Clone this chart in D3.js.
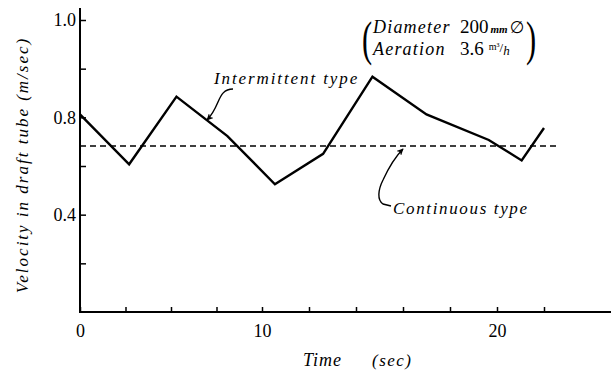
<!DOCTYPE html>
<html>
<head>
<meta charset="utf-8">
<script src="https://cdn.jsdelivr.net/npm/d3@7"></script>
<style>
  body { margin: 0; background: #fff; }
  svg text { font-family: 'Liberation Serif', 'Times New Roman', Times, serif; fill: #000; }
</style>
</head>
<body>
<div id="chart"></div>
<script>
// data
const timeSec = [0, 2.7, 5.3, 8.1, 10.55, 12.6, 14.7, 17.0, 19.65, 21.05, 22.0];
const intermittentVel = [0.812, 0.607, 0.885, 0.723, 0.525, 0.65, 0.967, 0.812, 0.707, 0.623, 0.756];
const continuousTime = [0, 22.55];
const continuousVel = [0.682, 0.682];

const xTickValues = [0, 2.5, 5, 7.5, 10, 12, 14, 16, 18, 20, 22];
const xTickLabels = { 0: '0', 10: '10', 20: '20' };
const yTickValues = [0.2, 0.4, 0.6, 0.8, 1.0, 1.2];
const yTickLabels = { 0.4: '0.4', 0.8: '0.8', 1.2: '1.0' };

const width = 611, height = 372;
const serif = "'Liberation Serif', 'Times New Roman', Times, serif";

// the printed time axis is not evenly spaced, so use a piecewise scale
const xScale = d3.scaleLinear().domain([0, 10, 20]).range([80, 262, 497]);
const yScale = d3.scaleLinear().domain([0, 1.2]).range([312, 20]);

const svg = d3.select('#chart')
  .append('svg')
  .attr('width', width)
  .attr('height', height)
  .attr('font-family', serif);

// arrow head marker
svg.append('defs').append('marker')
  .attr('id', 'arrow')
  .attr('viewBox', '0 0 10 10')
  .attr('refX', 9)
  .attr('refY', 5)
  .attr('markerWidth', 7)
  .attr('markerHeight', 7)
  .attr('markerUnits', 'userSpaceOnUse')
  .attr('orient', 'auto')
  .append('path')
  .attr('d', 'M0,0 L10,5 L0,10 L3,5 Z')
  .attr('fill', '#000');

// X-axis
const xAxis = svg.append('g')
  .attr('transform', `translate(0, ${yScale(0)})`)
  .call(d3.axisBottom(xScale)
    .tickValues(xTickValues)
    .tickSizeInner(-5)
    .tickSizeOuter(0)
    .tickPadding(12)
    .tickFormat(d => xTickLabels[d] || ''));
xAxis.attr('font-family', serif);
xAxis.select('.domain').remove();
xAxis.selectAll('.tick line').attr('stroke-width', 1.5);
xAxis.selectAll('.tick text')
  .attr('font-size', 18)
  .attr('fill', '#000');
svg.append('line')
  .attr('x1', xScale(0) - 1).attr('x2', width)
  .attr('y1', yScale(0)).attr('y2', yScale(0))
  .attr('stroke', '#000').attr('stroke-width', 2);

// Y-axis
const yAxis = svg.append('g')
  .attr('transform', `translate(${xScale(0)}, 0)`)
  .call(d3.axisLeft(yScale)
    .tickValues(yTickValues)
    .tickSizeInner(-6)
    .tickSizeOuter(0)
    .tickPadding(4)
    .tickFormat(d => yTickLabels[d] || ''));
yAxis.attr('font-family', serif);
yAxis.select('.domain').remove();
yAxis.selectAll('.tick line').attr('stroke-width', 1.5);
yAxis.selectAll('.tick text')
  .attr('font-size', 18)
  .attr('fill', '#000');
svg.append('line')
  .attr('x1', xScale(0)).attr('x2', xScale(0))
  .attr('y1', 8).attr('y2', yScale(0) + 1)
  .attr('stroke', '#000').attr('stroke-width', 2);

// Y-axis label
svg.append('text')
  .attr('transform', `translate(28, ${(40 + 290) / 2}) rotate(-90)`)
  .attr('text-anchor', 'middle')
  .attr('font-size', 17)
  .attr('font-style', 'italic')
  .attr('letter-spacing', 2)
  .text('Velocity in draft tube (m/sec)');

// X-axis label
svg.append('text')
  .attr('x', 303).attr('y', 366)
  .attr('font-size', 18)
  .attr('font-style', 'italic')
  .attr('letter-spacing', 1)
  .text('Time');
svg.append('text')
  .attr('x', 372).attr('y', 366)
  .attr('font-size', 17)
  .attr('font-style', 'italic')
  .attr('letter-spacing', 1.5)
  .text('(sec)');

// continuous type (dashed)
const line = d3.line()
  .x(d => xScale(d[0]))
  .y(d => yScale(d[1]));

svg.append('path')
  .datum(continuousTime.map((t, i) => [t, continuousVel[i]]))
  .attr('fill', 'none')
  .attr('stroke', '#000')
  .attr('stroke-width', 1.6)
  .attr('stroke-dasharray', '6,4')
  .attr('d', line);

// intermittent type (solid)
svg.append('path')
  .datum(timeSec.map((t, i) => [t, intermittentVel[i]]))
  .attr('fill', 'none')
  .attr('stroke', '#000')
  .attr('stroke-width', 2.4)
  .attr('stroke-linejoin', 'miter')
  .attr('d', line);

// labels with pointers
svg.append('text')
  .attr('x', 214).attr('y', 84)
  .attr('font-size', 17)
  .attr('font-style', 'italic')
  .attr('letter-spacing', 1.9)
  .text('Intermittent type');
svg.append('path')
  .attr('d', 'M233,89 C224,89 221,95 218,102 S213,114 207,120')
  .attr('fill', 'none')
  .attr('stroke', '#000')
  .attr('stroke-width', 1.4)
  .attr('marker-end', 'url(#arrow)');

svg.append('text')
  .attr('x', 393).attr('y', 214)
  .attr('font-size', 17)
  .attr('font-style', 'italic')
  .attr('letter-spacing', 1.65)
  .text('Continuous type');
svg.append('path')
  .attr('d', 'M391,206 L383,204 C377,200 378,190 383,180 C389,167 396,156 403,149')
  .attr('fill', 'none')
  .attr('stroke', '#000')
  .attr('stroke-width', 1.4)
  .attr('marker-end', 'url(#arrow)');

// condition note, top right
svg.append('text')
  .attr('transform', 'translate(362, 55) scale(0.8, 1.25)')
  .attr('font-size', 38)
  .text('(');
svg.append('text')
  .attr('transform', 'translate(526, 55) scale(0.8, 1.25)')
  .attr('font-size', 38)
  .text(')');

svg.append('text')
  .attr('x', 373).attr('y', 33)
  .attr('font-size', 18)
  .attr('font-style', 'italic')
  .attr('letter-spacing', 1.2)
  .text('Diameter');
svg.append('text')
  .attr('x', 373).attr('y', 55)
  .attr('font-size', 18)
  .attr('font-style', 'italic')
  .attr('letter-spacing', 1.2)
  .text('Aeration');

const dia = svg.append('text').attr('x', 460).attr('y', 33).attr('font-size', 19);
dia.append('tspan').text('200');
dia.append('tspan').attr('dx', 2).attr('font-size', 11).attr('font-weight', 'bold').attr('font-style', 'italic').text('mm');
dia.append('tspan').attr('dx', 2).attr('font-size', 17).attr('font-family', "'DejaVu Sans', sans-serif").text('∅');

const aer = svg.append('text').attr('x', 460).attr('y', 55).attr('font-size', 19);
aer.append('tspan').text('3.6');
aer.append('tspan').attr('dx', 5).attr('dy', -5).attr('font-size', 10).text('m³');
aer.append('tspan').attr('font-size', 13).attr('dy', 2).text('/');
aer.append('tspan').attr('font-size', 13).attr('font-style', 'italic').attr('dy', 3).text('h');
</script>
</body>
</html>
